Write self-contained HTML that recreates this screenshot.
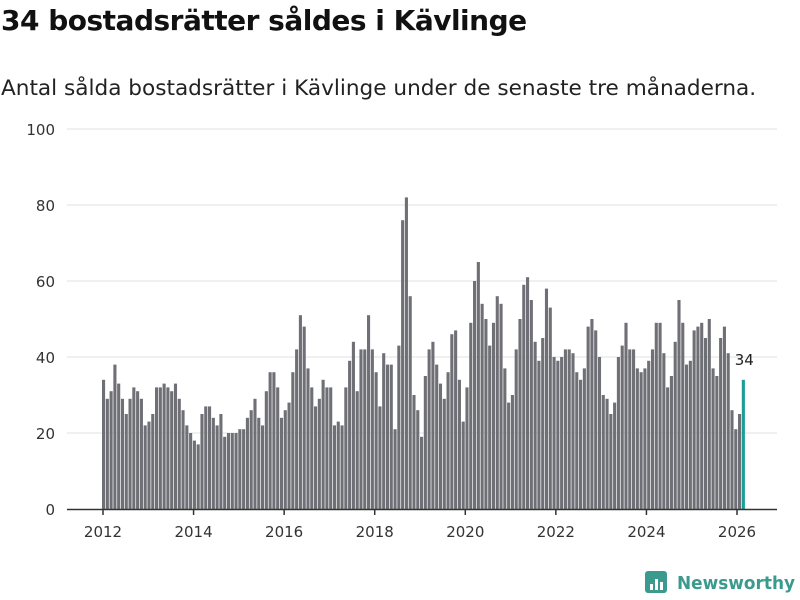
<!DOCTYPE html>
<html><head><meta charset="utf-8"><style>
body{margin:0;background:#fff;font-family:"Liberation Sans","DejaVu Sans",sans-serif;}
#wrap{position:relative;width:800px;height:600px;overflow:hidden;}
h1{position:absolute;left:1px;top:4px;margin:0;font-size:28px;font-weight:bold;color:#111;font-family:"DejaVu Sans",sans-serif;letter-spacing:-0.5px}
p.sub{position:absolute;left:1px;top:76px;margin:0;font-size:21.6px;color:#222;font-family:"DejaVu Sans",sans-serif;letter-spacing:0px}
svg{position:absolute;left:0;top:0}
</style></head><body>
<div id="wrap">
<h1>34 bostadsrätter såldes i Kävlinge</h1>
<p class="sub">Antal sålda bostadsrätter i Kävlinge under de senaste tre månaderna.</p>
<svg id="chart" width="800" height="600"></svg>
</div>
<script>
const startYear = 2012;
const values = [
34,29,31,38,33,29,25,29,32,31,29,22,
23,25,32,32,33,32,31,33,29,26,22,20,
18,17,25,27,27,24,22,25,19,20,20,20,
21,21,24,26,29,24,22,31,36,36,32,24,
26,28,36,42,51,48,37,32,27,29,34,32,
32,22,23,22,32,39,44,31,42,42,51,42,
36,27,41,38,38,21,43,76,82,56,30,26,
19,35,42,44,38,33,29,36,46,47,34,23,
32,49,60,65,54,50,43,49,56,54,37,28,
30,42,50,59,61,55,44,39,45,58,53,40,
39,40,42,42,41,36,34,37,48,50,47,40,
30,29,25,28,40,43,49,42,42,37,36,37,
39,42,49,49,41,32,35,44,55,49,38,39,
47,48,49,45,50,37,35,45,48,41,26,21,
25,34];
const yTicks = [0,20,40,60,80,100];
const xTicks = [2012,2014,2016,2018,2020,2022,2024,2026];

const NS = "http://www.w3.org/2000/svg";
const svg = document.getElementById('chart');
const x = yr => 103 + (yr - 2012) * (634/14);
const y = v => 509 - v * 3.8;
function mk(tag, attrs){const e=document.createElementNS(NS,tag);for(const k in attrs)e.setAttribute(k,attrs[k]);svg.appendChild(e);return e;}

yTicks.forEach(t=>{
  if(t>0){const g=mk('line',{x1:67,x2:777,y1:y(t),y2:y(t),stroke:'#e0e0e0','stroke-width':1});
  
  }
  const l=mk('text',{x:55,y:y(t)+6,'text-anchor':'end','font-size':15,fill:'#333','font-family':'DejaVu Sans, sans-serif'});
  l.textContent=t;
  
  
});
values.forEach((v,i)=>{
  const cx = x(startYear + i/12) + 0.5 + i*0.012;
  const last = i===values.length-1;
  const r=mk('rect',{x:cx-1.5,y:y(v),width:3.1,height:509-y(v),fill:last?'#1a9e96':'#6f6f76'});
  
  
  if(last){
    const t=mk('text',{x:cx+1,y:y(v)-15,'text-anchor':'middle','font-size':15,fill:'#222','font-family':'DejaVu Sans, sans-serif'});
    t.textContent=v;
    
    
  }
});
const ax=mk('line',{x1:67,x2:777,y1:509.5,y2:509.5,stroke:'#333','stroke-width':1.5});


xTicks.forEach(t=>{
  const tk=mk('line',{x1:x(t),x2:x(t),y1:509,y2:515,stroke:'#333','stroke-width':1.5});
  
  
  const l=mk('text',{x:x(t),y:537,'text-anchor':'middle','font-size':15,fill:'#333','font-family':'DejaVu Sans, sans-serif'});
  l.textContent=t;
  
  
});
const lg=mk('rect',{x:645,y:571,width:22,height:22,rx:3,fill:'#3a9a8e'});


[[650,584,3,6],[655,579,3,11],[660,582,3,8]].forEach(b=>{const r=mk('rect',{x:b[0],y:b[1],width:b[2],height:b[3],fill:'#fff'});

});
const lt=mk('text',{x:677,y:589,'font-size':18,'font-weight':'bold',fill:'#3a9a8e','font-family':'DejaVu Sans, sans-serif','textLength':118,'lengthAdjust':'spacingAndGlyphs'});
lt.textContent='Newsworthy';


</script>
</body></html>
